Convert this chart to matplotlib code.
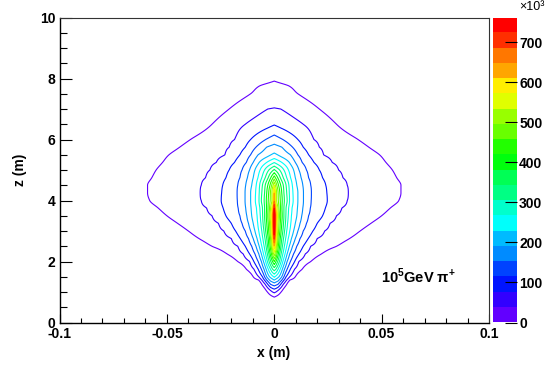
import colorsys
import numpy as np
import matplotlib
matplotlib.use('Agg')
import matplotlib.pyplot as plt
from matplotlib.colors import ListedColormap

plt.rcParams['font.family'] = ['Liberation Sans', 'DejaVu Sans']
plt.rcParams['mathtext.fontset'] = 'custom'
plt.rcParams['mathtext.rm'] = 'Liberation Sans:bold'
plt.rcParams['mathtext.bf'] = 'Liberation Sans:bold'

# ---- shower energy deposit, units of 10^3 ----
# rows along the shower axis z (m); for each row the value on the axis and the
# half-widths |x| (mm) where the deposit crosses contour level 0, 1, 2, ...
z_rows = [0.7, 0.9, 1.0, 1.25, 1.5, 1.75, 2.0, 2.25, 2.5, 2.75, 3.0, 3.25, 3.5,
          3.75, 4.0, 4.25, 4.5, 4.75, 5.0, 5.25, 5.5, 5.75, 6.0, 6.5, 7.0,
          7.5, 7.75, 8.0]
axis_value = [-38, 19, 46, 133, 236, 324, 419, 515, 605, 690, 745, 755, 752,
              722, 640, 608, 533, 440, 350, 265, 200, 165, 133, 74, 40,
              19, 13, -8]
half_width_mm = [
    [],
    [1.8],
    [3.2, 0.8],
    [5.8, 4.2, 3.0, 1.7],
    [9.8, 7.2, 5.5, 4.5, 3.5, 2.2, 0.3],
    [13.0, 9.5, 7.5, 6.0, 4.8, 3.8, 2.8, 1.8, 0.8],
    [17.0, 11.5, 9.5, 7.5, 6.0, 5.0, 4.0, 3.2, 2.4, 1.6, 0.8],
    [22.0, 14.5, 11.5, 9.0, 7.2, 6.0, 5.0, 4.0, 3.2, 2.5, 1.9, 1.3, 0.8, 0.3],
    [29.0, 17.0, 13.5, 10.5, 8.5, 7.0, 5.8, 4.7, 3.8, 3.1, 2.5, 1.9, 1.4, 1.0,
     0.65, 0.3],
    [35.0, 20.0, 15.8, 12.0, 9.8, 8.0, 6.5, 5.3, 4.3, 3.5, 2.8, 2.2, 1.7, 1.3,
     0.95, 0.7, 0.45, 0.25, 0.05],
    [40.0, 23.5, 18.0, 13.5, 11.0, 9.0, 7.2, 5.8, 4.8, 4.0, 3.2, 2.6, 2.0, 1.6,
     1.2, 0.9, 0.65, 0.45, 0.3, 0.15],
    [45.0, 26.0, 20.0, 15.0, 12.0, 9.8, 7.7, 6.2, 5.2, 4.3, 3.5, 2.8, 2.2, 1.7,
     1.3, 1.0, 0.75, 0.55, 0.4, 0.25],
    [50.0, 29.0, 22.5, 16.0, 12.8, 10.5, 8.0, 6.5, 5.4, 4.5, 3.7, 3.0, 2.4, 1.9,
     1.5, 1.15, 0.85, 0.6, 0.4, 0.25],
    [54.0, 31.5, 23.8, 16.8, 13.3, 10.8, 8.3, 6.7, 5.5, 4.5, 3.6, 2.9, 2.2, 1.7,
     1.2, 0.85, 0.55, 0.3, 0.12],
    [58.0, 34.0, 24.7, 17.2, 13.6, 11.0, 8.8, 7.1, 6.0, 4.7, 3.7, 2.8, 1.9, 1.1,
     0.7, 0.4, 0.15],
    [59.0, 34.5, 24.5, 17.3, 13.6, 11.0, 8.7, 7.0, 5.8, 4.5, 3.5, 2.6, 1.8, 1.1,
     0.6, 0.25],
    [59.0, 34.0, 24.0, 17.0, 13.3, 10.5, 8.4, 6.8, 5.5, 4.2, 3.0, 2.0, 1.2, 0.5],
    [57.0, 32.0, 22.5, 16.0, 12.5, 9.8, 7.6, 5.8, 4.2, 2.8, 1.6, 0.5],
    [55.0, 30.0, 21.0, 15.0, 11.5, 9.0, 6.6, 4.5, 2.5, 0.3],
    [52.0, 27.0, 18.5, 13.0, 9.8, 7.0, 3.5],
    [49.0, 23.0, 16.0, 11.0, 7.5, 1.5],
    [44.0, 21.0, 13.5, 8.5, 3.5],
    [39.0, 18.5, 11.0, 4.0],
    [29.0, 13.5],
    [21.0, 3.0],
    [11.0],
    [7.0],
    [],
]

z_max = 762.0          # top of the palette (10^3)
n_levels = 20
cbar_ticks = [0, 100, 200, 300, 400, 500, 600, 700]
x_ticks = [-0.1, -0.05, 0, 0.05, 0.1]
x_tick_labels = ['-0.1', '-0.05', '0', '0.05', '0.1']
y_ticks = [0, 2, 4, 6, 8, 10]

step = z_max / n_levels
levels = np.arange(n_levels) * step

# ROOT "pretty" palette: 50 hues, 20 of them picked for the contour bands
band_colors = []
for i in range(n_levels):
    j = int((i + 0.99) * 50 / n_levels)
    hue = 280.0 - (j + 1) * 280.0 / 50
    band_colors.append(colorsys.hls_to_rgb(hue / 360.0, 0.5, 1.0))

# build the deposit map row by row from the level crossings
x = np.linspace(-0.1, 0.1, 2001)
rows = np.empty((len(z_rows), x.size))
for k, (peak, widths) in enumerate(zip(axis_value, half_width_mm)):
    w = np.array(widths) / 1000.0
    vals = np.arange(len(w)) * step
    if len(w) > 1:
        edge = w[0] + (w[0] - w[1])
    elif len(w) == 1:
        edge = w[0] * (1 + step / peak)
    if len(w):
        xp = np.concatenate([[0.0], w[::-1], [edge]])
        fp = np.concatenate([[peak], vals[::-1], [-step]])
    else:
        xp = np.array([0.0, 0.01])
        fp = np.array([peak, -step])
    rows[k] = np.interp(np.abs(x), xp, fp)

# monotone cubic (PCHIP) between rows so the lines bend smoothly in z
zr = np.array(z_rows)
h = np.diff(zr)
d = np.diff(rows, axis=0) / h[:, None]
m = np.zeros_like(rows)
for k in range(1, len(zr) - 1):
    w1 = 2 * h[k] + h[k - 1]
    w2 = h[k] + 2 * h[k - 1]
    same = d[k - 1] * d[k] > 0
    safe_a = np.where(same, d[k - 1], 1.0)
    safe_b = np.where(same, d[k], 1.0)
    m[k] = np.where(same, (w1 + w2) / (w1 / safe_a + w2 / safe_b), 0.0)
m[0] = d[0]
m[-1] = d[-1]

z = np.linspace(zr[0], zr[-1], 600)
idx = np.clip(np.searchsorted(zr, z, side='right') - 1, 0, len(zr) - 2)
t = ((z - zr[idx]) / h[idx])[:, None]
hh = h[idx][:, None]
field = ((2 * t**3 - 3 * t**2 + 1) * rows[idx] + (t**3 - 2 * t**2 + t) * hh * m[idx]
         + (-2 * t**3 + 3 * t**2) * rows[idx + 1] + (t**3 - t**2) * hh * m[idx + 1])

fig = plt.figure(figsize=(5.46, 3.66), dpi=100)
ax = fig.add_axes([59.5 / 546, 43.5 / 366, 429.5 / 546, 305 / 366])
cax = fig.add_axes([493 / 546, 43.5 / 366, 24 / 546, 305 / 366])

ax.contour(x, z, field, levels=levels, colors=band_colors, linewidths=0.8)

ax.set_xlim(-0.1, 0.1)
ax.set_ylim(0, 10)
ax.set_xticks(x_ticks)
ax.set_xticklabels(x_tick_labels)
ax.set_xticks(np.arange(-0.1, 0.1001, 0.01), minor=True)
ax.set_yticks(y_ticks)
ax.set_yticks(np.arange(0, 10.01, 0.5), minor=True)
ax.tick_params(which='both', direction='in', top=False, right=False,
               width=0.8, labelsize=10)
ax.tick_params(axis='x', which='major', length=6.5, pad=3.5)
ax.tick_params(axis='x', which='minor', length=3.6)
ax.tick_params(axis='y', which='major', length=8.6, pad=3)
ax.tick_params(axis='y', which='minor', length=4.8)
for lab in ax.get_xticklabels() + ax.get_yticklabels():
    lab.set_fontweight('bold')
for side in ['left', 'bottom']:
    ax.spines[side].set_linewidth(1.0)
for side in ['top', 'right']:
    ax.spines[side].set_linewidth(0.8)
    ax.spines[side].set_color('#333333')

fig.text(274 / 546, 1 - 353 / 366, 'x (m)', ha='center', va='center',
         fontsize=10, fontweight='bold')
fig.text(20 / 546, 1 - 170 / 366, 'z (m)', ha='center', va='center',
         rotation=90, fontsize=10, fontweight='bold')
fig.text(381 / 546, 1 - 283 / 366, '10$^{5}$GeV π$^{+}$', ha='left',
         va='baseline', fontsize=10.5, fontweight='bold')

# palette axis
cax.imshow(np.arange(n_levels).reshape(-1, 1), cmap=ListedColormap(band_colors),
           origin='lower', extent=[0, 1, 0, z_max], aspect='auto')
cax.set_xlim(0, 1)
cax.set_ylim(0, z_max)
cax.set_xticks([])
cax.set_yticks(cbar_ticks)
cax.yaxis.tick_right()
cax.tick_params(axis='y', direction='in', length=8.5, width=0.8, pad=1.5,
                labelsize=10)
for lab in cax.get_yticklabels():
    lab.set_fontweight('bold')
for s in cax.spines.values():
    s.set_visible(False)
fig.text(545 / 546, 1 - 1 / 366, '×10³', ha='right', va='top', fontsize=9)

fig.savefig('out.png', dpi=100)
